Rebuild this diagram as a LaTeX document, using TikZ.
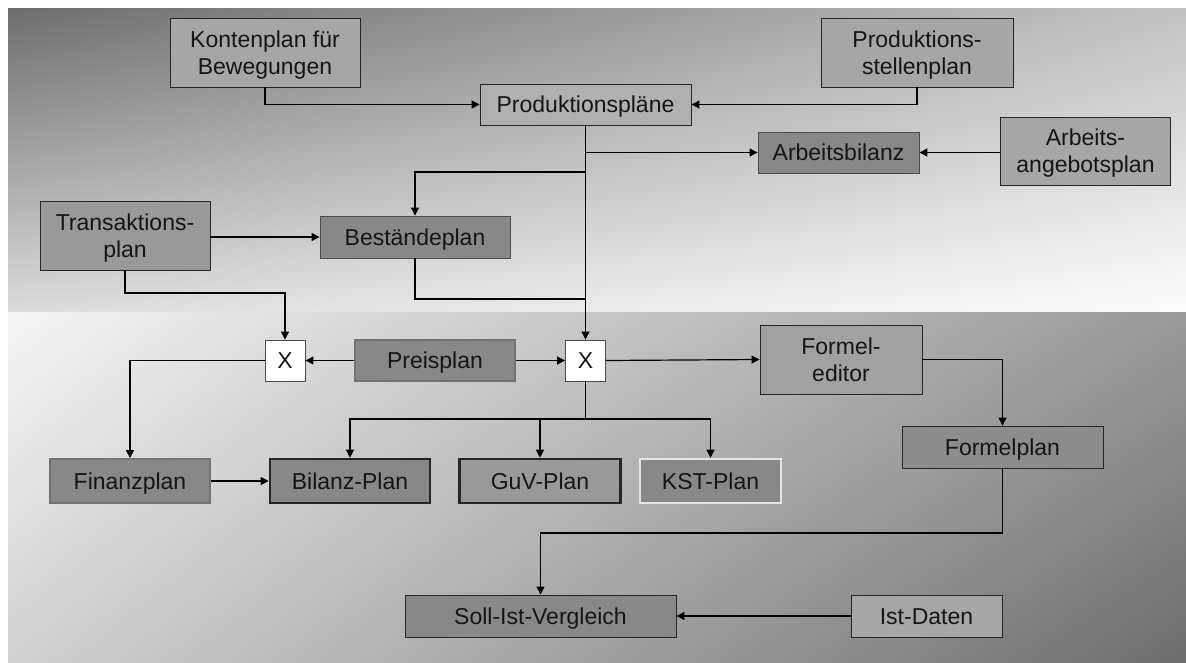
\documentclass[tikz,border=0pt]{standalone}
\usepackage{fontspec}
\setmainfont{Liberation Sans}
\usetikzlibrary{arrows.meta,shadings}

\definecolor{boxlight}{HTML}{A6A6A6}
\definecolor{boxmid}{HTML}{B0B0B0}
\definecolor{boxdark}{HTML}{888888}
\definecolor{inkcol}{HTML}{151515}

\begin{document}
\begin{tikzpicture}[x=1pt,y=-1pt,
  box/.style={draw=black!85,line width=0.9pt,fill=boxlight,text=inkcol,
    align=center,inner sep=0pt,text depth=0pt,font=\fontsize{23}{27}\selectfont},
  one/.style={text height=16.5pt},
  darkbox/.style={box,fill=boxdark},
  framed/.style={darkbox,draw=black!55,line width=1.8pt},
  heavy/.style={darkbox,draw=black!85,line width=2.6pt},
  pale/.style={darkbox,draw=white!90!black,line width=2.6pt},
  mult/.style={box,one,fill=white,draw=black!70,minimum width=40pt,minimum height=41pt},
  arr/.style={line width=1.2pt,draw=black,-{Triangle[length=8pt,width=8pt]}},
  link/.style={line width=1.2pt,draw=black}
]
\useasboundingbox (0,0) rectangle (1186,662);
\fill[white] (0,0) rectangle (1186,662);

% two shaded bands behind the chart
\shade[upper left=black!57,upper right=black!24,lower left=black!14,lower right=black!1]
  (8,8) rectangle (1186,312);
\shade[upper left=black!4,upper right=black!40,lower left=black!18,lower right=black!57]
  (8,312) rectangle (1186,662);

% boxes
\node[box,minimum width=190pt,minimum height=69pt] (konten) at (265,52.5) {Kontenplan für\\Bewegungen};
\node[box,one,fill=boxmid,minimum width=211pt,minimum height=41pt] (prodpl) at (585.5,104.5) {Produktionspläne};
\node[box,minimum width=192pt,minimum height=69pt] (prodst) at (917,52.5) {Produktions-\\stellenplan};
\node[darkbox,one,draw=black!70,minimum width=161pt,minimum height=41pt] (arbbil) at (838.5,152.5) {Arbeitsbilanz};
\node[box,minimum width=170pt,minimum height=68pt] (arbang) at (1085.5,151) {Arbeits-\\angebotsplan};
\node[box,fill=black!40,minimum width=170pt,minimum height=69pt] (trans) at (125,235.5) {Transaktions-\\plan};
\node[darkbox,one,draw=black!70,minimum width=190pt,minimum height=42pt] (best) at (415,237) {Beständeplan};

\node[mult] (x1) at (285,360.5) {X};
\node[framed,one,minimum width=160pt,minimum height=41pt] (preis) at (435,360.5) {Preisplan};
\node[mult] (x2) at (585.5,360.5) {X};
\node[box,fill=black!37,minimum width=162pt,minimum height=69pt] (formed) at (841,359.5) {Formel-\\editor};
\node[darkbox,one,fill=black!45,minimum width=201pt,minimum height=42pt] (formpl) at (1002.5,447) {Formelplan};

\node[framed,one,minimum width=160pt,minimum height=44pt] (finanz) at (130,481) {Finanzplan};
\node[heavy,one,minimum width=160pt,minimum height=44pt] (bilanz) at (350,481) {Bilanz-Plan};
\node[heavy,one,fill=black!40,minimum width=161pt,minimum height=44pt] (guv) at (540,481) {GuV-Plan};
\node[pale,one,minimum width=141pt,minimum height=44pt] (kst) at (710.5,481) {KST-Plan};

\node[darkbox,one,minimum width=271pt,minimum height=42pt] (soll) at (540.5,616) {Soll-Ist-Vergleich};
\node[box,one,minimum width=151pt,minimum height=42pt] (ist) at (926.5,616) {Ist-Daten};

% junction points on the trunk lines
\coordinate (jarb) at (585.5,152.5);
\coordinate (jbest) at (585.5,172);
\coordinate (jret) at (585.5,299);
\coordinate (jtr) at (125,293);
\coordinate (jout) at (585.5,419);
\coordinate (jform) at (1002.5,533);

% connectors of the upper band
\draw[arr] (konten.south) |- (prodpl.west);
\draw[arr] (prodst.south) |- (prodpl.east);
\draw[arr] (prodpl.south) -- (x2.north);
\draw[arr] (jarb) -- (arbbil.west);
\draw[arr] (arbang.west |- arbbil.east) -- (arbbil.east);
\draw[arr] (jbest) -| (best.north);
\draw[arr] (trans.east |- best.west) -- (best.west);
\draw[link] (best.south) |- (jret);
\draw[arr] (trans.south) -- (jtr) -| (x1.north);

% connectors of the lower band
\draw[arr] (preis.west) -- (x1.east);
\draw[arr] (preis.east) -- (x2.west);
\draw[arr] (x1.west) -| (finanz.north);
\draw[arr] (finanz.east) -- (bilanz.west);
\draw[link] (x2.south) -- (jout);
\draw[arr] (jout) -| (bilanz.north);
\draw[arr] (jout) -| (guv.north);
\draw[arr] (jout) -| (kst.north);
\draw[arr] (x2.east) -- (formed.west);
\draw[arr] (formed.east) -| (formpl.north);
\draw[arr] (formpl.south) -- (jform) -| (soll.north);
\draw[arr] (ist.west) -- (soll.east);
\end{tikzpicture}
\end{document}
